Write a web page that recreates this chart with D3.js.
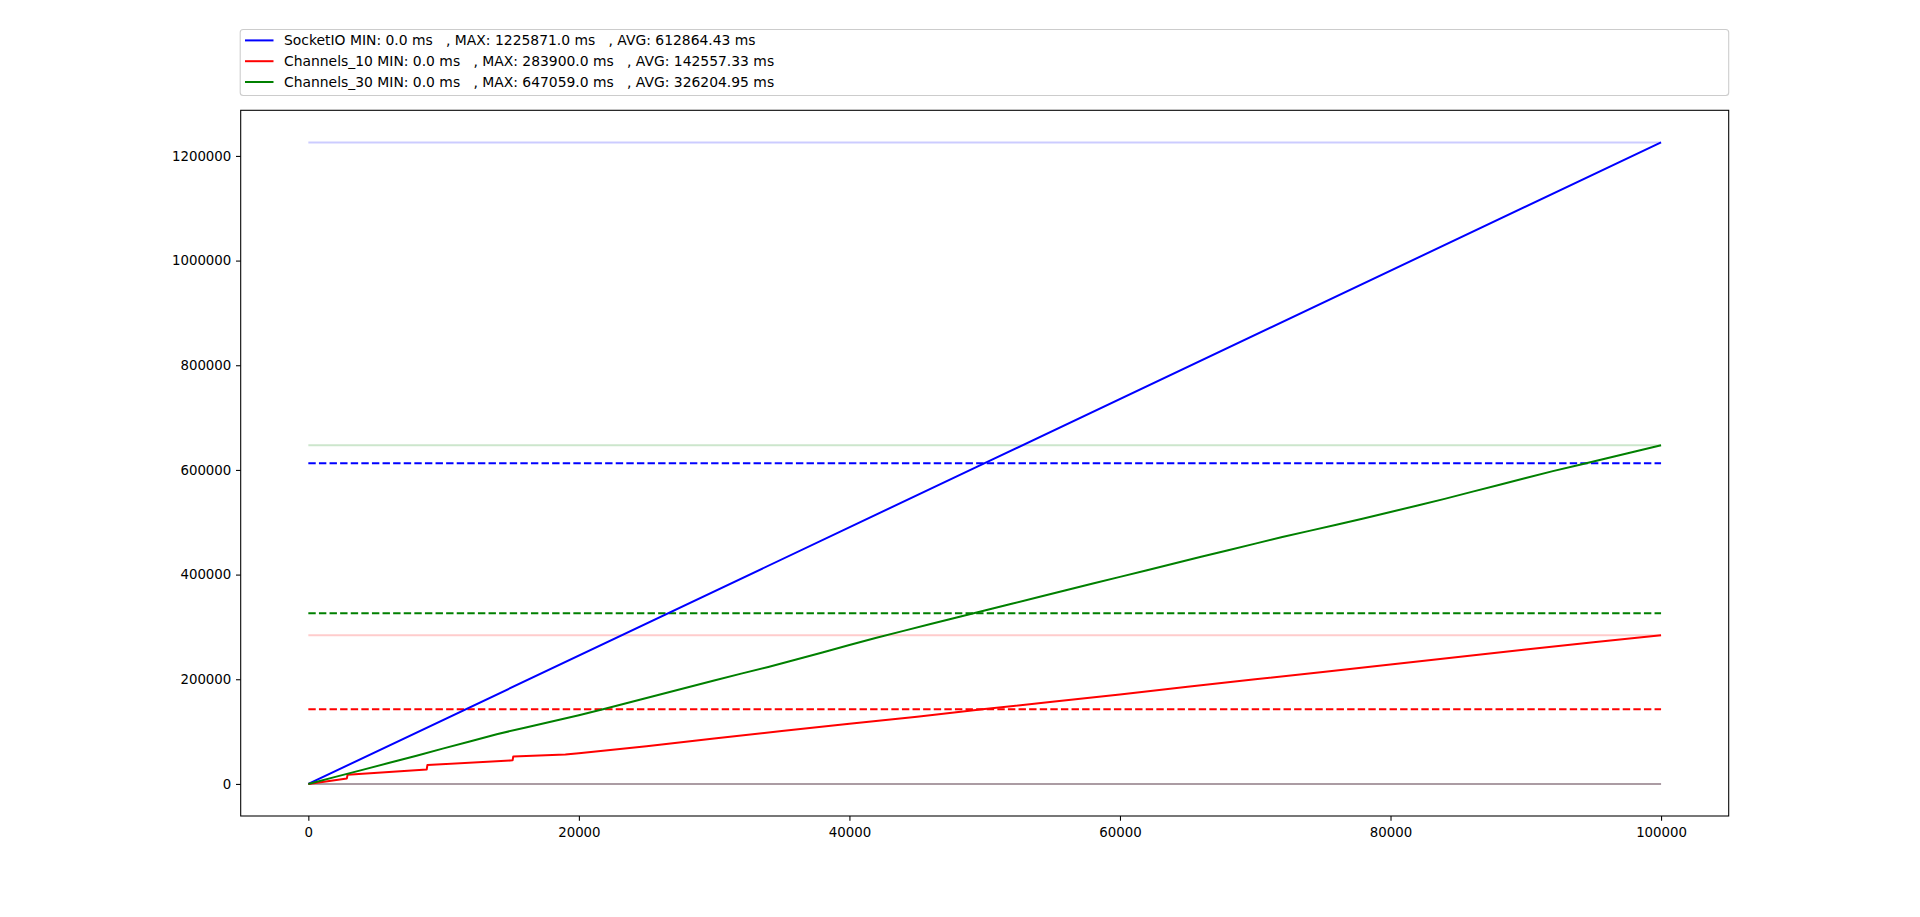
<!DOCTYPE html>
<html>
<head>
<meta charset="utf-8">
<script src="https://cdn.jsdelivr.net/npm/d3@7"></script>
<style>
  html, body { margin: 0; padding: 0; background: #fff; }
  svg { display: block; font-family: "DejaVu Sans", sans-serif; }
</style>
</head>
<body>
<div id="app"></div>
<script>
// series names and colours
const names = ['SocketIO', 'Channels_10', 'Channels_30']
const colors = ['#0000ff', '#ff0000', '#008000']

// summary values shown in the legend and as horizontal lines
const mins = [0.0, 0.0, 0.0]
const maxs = [1225871.0, 283900.0, 647059.0]
const avgs = [612864.43, 142557.33, 326204.95]

// SocketIO latency (straight line)
const socketio_x = [0, 50000, 100000]
const socketio_y = [0, 613000, 1225871]

// Channels_10 latency (steps at the start, then almost linear)
const ch10_x = [0, 2850, 2900, 8750, 8800, 15100, 15150, 19000, 20000, 25000, 30000, 35000, 40000,
  45000, 50000, 55000, 60000, 65000, 70000, 75000, 80000, 85000, 90000, 95000, 100000]
const ch10_y = [0, 10500, 17500, 27500, 36000, 45000, 52500, 56000, 58500, 72000, 87000, 101000, 115000,
  128500, 143000, 157000, 171000, 185500, 200000, 214000, 228000, 242500, 257000, 270500, 283900]

// Channels_30 latency
const ch30_x = [0, 2000, 4000, 6000, 8000, 10000, 12000, 14000, 16000, 18000, 20000, 22000, 24000,
  26000, 28000, 30000, 32000, 34000, 36000, 38000, 40000, 42000, 44000, 46000, 48000, 50000,
  52000, 54000, 56000, 58000, 60000, 62000, 64000, 66000, 68000, 70000, 72000, 74000, 76000,
  78000, 80000, 82000, 84000, 86000, 88000, 90000, 92000, 94000, 96000, 98000, 100000]
const ch30_y = [0, 13500, 26900, 40400, 54000, 67900, 81700, 95500, 107300, 119300, 131400, 144100, 157500,
  170900, 184300, 197700, 210800, 223500, 237300, 251200, 265300, 279400, 292500, 305400, 318300, 331200,
  344200, 357100, 370000, 382800, 395600, 408400, 421300, 434000, 446600, 459200, 471900, 483500, 495200,
  507000, 519600, 532100, 544700, 558000, 571200, 584500, 597700, 610000, 622400, 634700, 647059]

const xs = [socketio_x, ch10_x, ch30_x]
const ys = [socketio_y, ch10_y, ch30_y]

// tick values
const x_ticks = [0, 20000, 40000, 60000, 80000, 100000]
const y_ticks = [0, 200000, 400000, 600000, 800000, 1000000, 1200000]

function main() {
  const width = 1920
  const height = 917
  const margin = { left: 240.7, right: 1920 - 1728.7, top: 110.3, bottom: 917 - 816 }

  const svg = d3.select('#app')
    .append('svg')
    .attr('width', width)
    .attr('height', height)

  const series = names.map((name, i) => ({
    name,
    color: colors[i],
    points: xs[i].map((x, j) => [x, ys[i][j]])
  }))

  // matplotlib style 5% padding on both axes
  const all_x = xs.flat()
  const all_y = ys.flat()
  const [x0, x1] = d3.extent(all_x)
  const [y0, y1] = d3.extent(all_y)
  const px = (x1 - x0) * 0.05
  const py = (y1 - y0) * 0.05

  const x_scale = d3.scaleLinear()
    .domain([x0 - px, x1 + px])
    .range([margin.left, width - margin.right])

  const y_scale = d3.scaleLinear()
    .domain([y0 - py, y1 + py])
    .range([height - margin.bottom, margin.top])

  const plot = svg.append('g')

  // horizontal min / max / avg lines
  series.forEach((s, i) => {
    const xa = x_scale(d3.min(xs[i]))
    const xb = x_scale(d3.max(xs[i]))
    plot.append('line')
      .attr('x1', xa).attr('x2', xb)
      .attr('y1', y_scale(mins[i])).attr('y2', y_scale(mins[i]))
      .attr('stroke', s.color).attr('stroke-opacity', 0.2).attr('stroke-width', 2)
    plot.append('line')
      .attr('x1', xa).attr('x2', xb)
      .attr('y1', y_scale(maxs[i])).attr('y2', y_scale(maxs[i]))
      .attr('stroke', s.color).attr('stroke-opacity', 0.2).attr('stroke-width', 2)
    plot.append('line')
      .attr('x1', xa).attr('x2', xb)
      .attr('y1', y_scale(avgs[i])).attr('y2', y_scale(avgs[i]))
      .attr('stroke', s.color).attr('stroke-width', 2)
      .attr('stroke-dasharray', '7.4,3.2')
  })

  // the latency lines
  const line = d3.line()
    .x((d) => x_scale(d[0]))
    .y((d) => y_scale(d[1]))

  plot.selectAll('path.series')
    .data(series)
    .join('path')
    .attr('class', 'series')
    .attr('d', (d) => line(d.points))
    .attr('fill', 'none')
    .attr('stroke', (d) => d.color)
    .attr('stroke-width', 2)
    .attr('stroke-linejoin', 'round')

  // axes
  const x_axis = d3.axisBottom(x_scale)
    .tickValues(x_ticks)
    .tickFormat(d3.format('d'))
    .tickSizeOuter(0)
    .tickSize(4.7)
    .tickPadding(4.7)

  const y_axis = d3.axisLeft(y_scale)
    .tickValues(y_ticks)
    .tickFormat(d3.format('d'))
    .tickSizeOuter(0)
    .tickSize(4.7)
    .tickPadding(4.7)

  const gx = svg.append('g')
    .attr('transform', `translate(0,${height - margin.bottom})`)
    .call(x_axis)
  const gy = svg.append('g')
    .attr('transform', `translate(${margin.left},0)`)
    .call(y_axis)

  ;[gx, gy].forEach((g) => {
    g.select('.domain').remove()
    g.selectAll('line').attr('stroke', '#000').attr('stroke-width', 1.07)
    g.selectAll('text')
      .attr('fill', '#000')
      .style('font-family', '"DejaVu Sans", sans-serif')
      .style('font-size', '13.33px')
  })
  gx.selectAll('text').attr('dy', '0.84em')

  // frame
  svg.append('rect')
    .attr('x', margin.left)
    .attr('y', margin.top)
    .attr('width', width - margin.right - margin.left)
    .attr('height', height - margin.bottom - margin.top)
    .attr('fill', 'none')
    .attr('stroke', '#000')
    .attr('stroke-width', 1.07)

  // legend above the plot, expanded to the axes width
  const legend = svg.append('g')
  legend.append('rect')
    .attr('x', margin.left - 0.5)
    .attr('y', 29.5)
    .attr('width', width - margin.right - margin.left + 0.5)
    .attr('height', 66)
    .attr('rx', 3)
    .attr('fill', '#fff')
    .attr('fill-opacity', 0.8)
    .attr('stroke', '#cccccc')
    .attr('stroke-width', 1.07)

  const fmt = (v, dp) => v.toFixed(dp)
  const labels = names.map((n, i) =>
    `${n} MIN: ${fmt(mins[i], 1)} ms   , MAX: ${fmt(maxs[i], 1)} ms   , AVG: ${fmt(avgs[i], 2)} ms`)

  const row = legend.selectAll('g.row')
    .data(series)
    .join('g')
    .attr('class', 'row')
    .attr('transform', (d, i) => `translate(0,${40.4 + i * 20.8})`)

  row.append('line')
    .attr('x1', 245).attr('x2', 273.5)
    .attr('stroke', (d) => d.color)
    .attr('stroke-width', 2)

  row.append('text')
    .attr('x', 284)
    .attr('dy', '0.36em')
    .style('font-size', '13.9px')
    .style('white-space', 'pre')
    .attr('fill', '#000')
    .text((d, i) => labels[i])
}

main()
</script>
</body>
</html>
